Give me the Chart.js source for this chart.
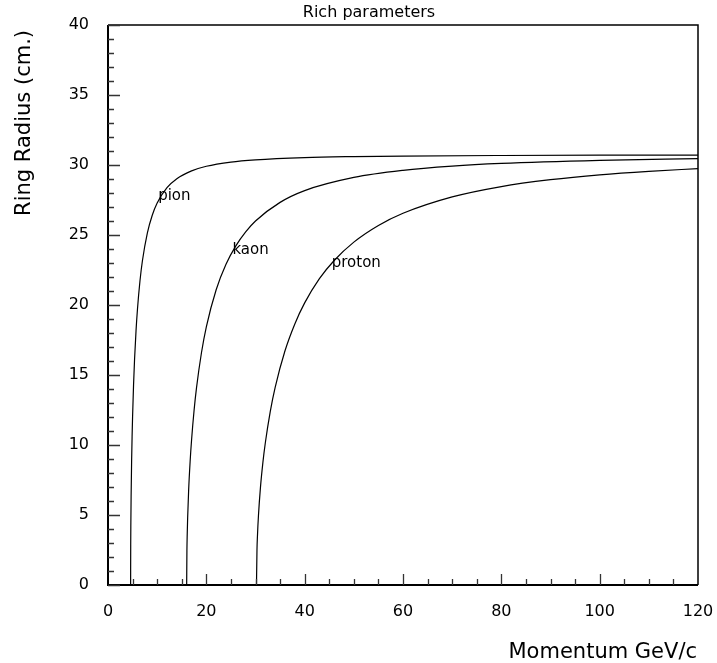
<!DOCTYPE html>
<html>
<head>
<meta charset="utf-8">
<script src="https://cdn.jsdelivr.net/npm/chart.js@4.4.1/dist/chart.umd.min.js"></script>
<style>
  html, body { margin: 0; padding: 0; background: #ffffff; }
  #wrap { width: 717px; height: 663px; }
</style>
</head>
<body>
<div id="wrap"><canvas id="c" width="717" height="663"></canvas></div>
<script>
// ---- Data ----
const chartTitle = 'Rich parameters';
const xTitle = 'Momentum GeV/c';
const yTitle = 'Ring Radius (cm.)';
const seriesNames = ['pion', 'kaon', 'proton'];

const pionP = [4.6, 4.62, 4.65, 4.7, 4.8, 4.9, 5.0, 5.2, 5.4, 5.7, 6.0, 6.5, 7, 8, 9, 10, 12, 14, 17, 20, 25, 30, 40, 50, 60, 80, 100, 120];
const pionR = [0, 2.86, 4.49, 6.31, 8.78, 10.59, 12.04, 14.33, 16.10, 18.15, 19.73, 21.71, 23.16, 25.14, 26.41, 27.29, 28.38, 29.02, 29.58, 29.91, 30.21, 30.37, 30.53, 30.60, 30.64, 30.68, 30.70, 30.71];

const kaonP = [16.0, 16.05, 16.1, 16.2, 16.4, 16.7, 17, 17.5, 18, 19, 20, 22, 24, 26, 28, 30, 35, 40, 50, 60, 70, 80, 100, 120];
const kaonR = [0, 2.42, 3.42, 4.81, 6.75, 8.80, 10.38, 12.45, 14.08, 16.57, 18.44, 21.09, 22.91, 24.22, 25.22, 26.00, 27.33, 28.17, 29.11, 29.62, 29.92, 30.11, 30.33, 30.46];

const protonP = [30.2, 30.3, 30.4, 30.6, 31, 31.5, 32, 33, 34, 36, 38, 40, 43, 46, 50, 55, 60, 70, 80, 90, 100, 110, 120];
const protonR = [0, 2.50, 3.52, 4.95, 6.94, 8.74, 10.16, 12.39, 14.12, 16.73, 18.65, 20.15, 21.88, 23.18, 24.49, 25.68, 26.55, 27.72, 28.46, 28.95, 29.30, 29.55, 29.74];

const xRange = [0, 120];
const yRange = [0, 40];
const xMajorStep = 20, xMinorStep = 5;
const yMajorStep = 5, yMinorStep = 1;

// label anchors (data coordinates) for curve names
const labelAnchorP = [10.2, 25.3, 45.5];
const labelAnchorR = [27.75, 23.95, 23.0];

// ---- Build datasets ----
function toPts(xs, ys) { return xs.map((x, i) => ({ x: x, y: ys[i] })); }
const seriesData = [toPts(pionP, pionR), toPts(kaonP, kaonR), toPts(protonP, protonR)];

const FONT = '"DejaVu Sans", "Liberation Sans", sans-serif';

const decorPlugin = {
  id: 'decor',
  afterDraw(chart) {
    const ctx = chart.ctx;
    const xs = chart.scales.x, ys = chart.scales.y;
    const a = chart.chartArea;
    ctx.save();
    // frame
    ctx.strokeStyle = '#000';
    ctx.lineWidth = 1.5;
    ctx.beginPath();
    ctx.moveTo(a.left, a.top); ctx.lineTo(a.right, a.top); ctx.lineTo(a.right, a.bottom);
    ctx.stroke();
    ctx.lineWidth = 2;
    ctx.beginPath();
    ctx.moveTo(a.left, a.top); ctx.lineTo(a.left, a.bottom); ctx.lineTo(a.right, a.bottom);
    ctx.stroke();
    // inward ticks
    ctx.lineWidth = 1.3;
    ctx.strokeStyle = '#333';
    ctx.beginPath();
    for (let v = yRange[0]; v <= yRange[1]; v += yMinorStep) {
      const py = Math.round(ys.getPixelForValue(v)) + 0.5;
      const len = (v % yMajorStep === 0) ? 12 : 6;
      ctx.moveTo(a.left, py); ctx.lineTo(a.left + len, py);
    }
    for (let v = xRange[0] + xMinorStep; v < xRange[1]; v += xMinorStep) {
      const px = Math.round(xs.getPixelForValue(v)) + 0.5;
      const len = (v % xMajorStep === 0) ? 11 : 6;
      ctx.moveTo(px, a.bottom); ctx.lineTo(px, a.bottom - len);
    }
    ctx.stroke();
    // texts
    ctx.fillStyle = '#000';
    ctx.font = '16px ' + FONT;
    ctx.textAlign = 'center';
    ctx.textBaseline = 'middle';
    ctx.fillText(chartTitle, 369, 13);
    ctx.font = '21px ' + FONT;
    ctx.textAlign = 'right';
    ctx.textBaseline = 'alphabetic';
    ctx.fillText(xTitle, 697, 658);
    ctx.save();
    ctx.translate(30, 30);
    ctx.rotate(-Math.PI / 2);
    ctx.textAlign = 'right';
    ctx.fillText(yTitle, 0, 0);
    ctx.restore();
    // curve labels
    ctx.font = '15px ' + FONT;
    ctx.textAlign = 'left';
    ctx.textBaseline = 'middle';
    seriesNames.forEach((n, i) => {
      ctx.fillText(n, xs.getPixelForValue(labelAnchorP[i]), ys.getPixelForValue(labelAnchorR[i]));
    });
    ctx.restore();
  }
};

new Chart(document.getElementById('c'), {
  type: 'scatter',
  data: {
    datasets: seriesData.map((d, i) => ({
      label: seriesNames[i],
      data: d,
      showLine: true,
      borderColor: '#000',
      borderWidth: 1.2,
      pointRadius: 0,
      cubicInterpolationMode: 'monotone',
      fill: false
    }))
  },
  options: {
    responsive: false,
    animation: false,
    devicePixelRatio: 1,
    layout: { padding: { left: 0, right: 19, top: 25, bottom: 0 } },
    plugins: { legend: { display: false }, tooltip: { enabled: false }, title: { display: false } },
    scales: {
      x: {
        type: 'linear',
        min: xRange[0], max: xRange[1],
        grid: { display: false, drawTicks: false },
        border: { display: false },
        ticks: { stepSize: xMajorStep, padding: 17, color: '#000', font: { family: FONT, size: 16 }, maxRotation: 0 },
        afterFit(s) { s.height = 78; s.paddingLeft = 0; s.paddingRight = 0; }
      },
      y: {
        type: 'linear',
        min: yRange[0], max: yRange[1],
        grid: { display: false, drawTicks: false },
        border: { display: false },
        ticks: { stepSize: yMajorStep, padding: 19, color: '#000', font: { family: FONT, size: 16 } },
        afterFit(s) { s.width = 108; s.paddingTop = 0; s.paddingBottom = 0; }
      }
    }
  },
  plugins: [decorPlugin]
});
</script>
</body>
</html>
